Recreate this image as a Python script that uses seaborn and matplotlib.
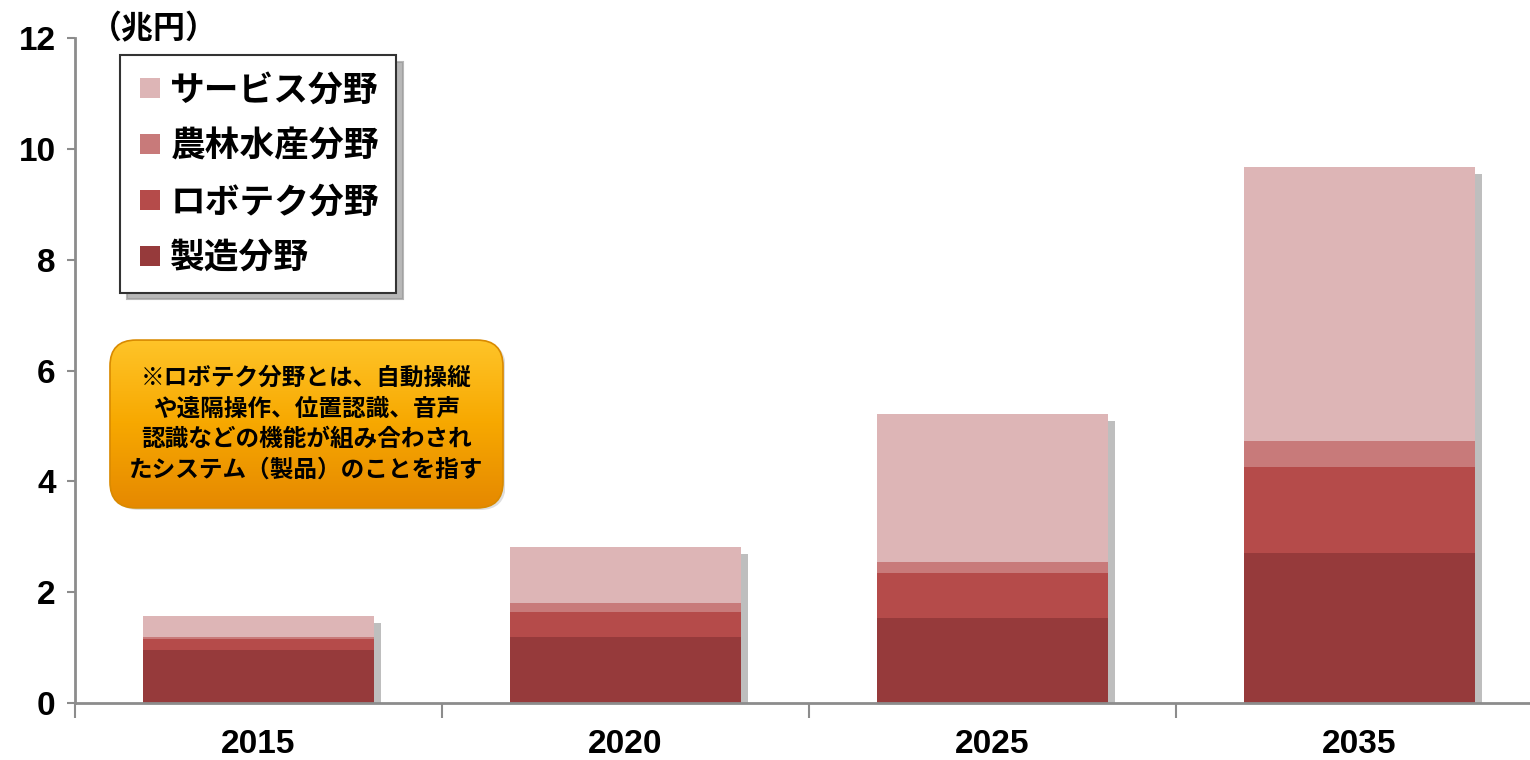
import numpy as np
import pandas as pd
import seaborn as sns
import matplotlib
matplotlib.use('Agg')
import matplotlib.pyplot as plt
from matplotlib.patches import FancyBboxPatch
from matplotlib.lines import Line2D
from matplotlib.colors import LinearSegmentedColormap
from matplotlib.font_manager import FontProperties
import matplotlib.patheffects as pe

# ---- data ----
years = ['2015', '2020', '2025', '2035']
manufacturing = [0.95, 1.19, 1.54, 2.70]   # 製造分野
robotech = [0.20, 0.45, 0.81, 1.55]        # ロボテク分野
agri = [0.05, 0.17, 0.20, 0.47]            # 農林水産分野
service = [0.37, 1.00, 2.67, 4.95]         # サービス分野
series_names = ['製造分野', 'ロボテク分野', '農林水産分野', 'サービス分野']
colors = ['#963A3B', '#B54B4A', '#C87A7A', '#DDB5B6']
yticks = [0, 2, 4, 6, 8, 10, 12]
unit_label = '（兆円）'
note_text = ('※ロボテク分野とは、自動操縦\n'
             'や遠隔操作、位置認識、音声\n'
             '認識などの機能が組み合わされ\n'
             'たシステム（製品）のことを指す')

sns.set_theme(style='white')
plt.rcParams['font.family'] = ['Noto Sans CJK JP', 'DejaVu Sans']
plt.rcParams['text.color'] = 'black'

W, H = 1530, 760
fig = plt.figure(figsize=(W / 100, H / 100), dpi=100)
ax = fig.add_axes([75 / W, 1 - 703 / H, 1468 / W, (703 - 38) / H])

layers = [manufacturing, robotech, agri, service]
cum = np.cumsum(np.array(layers), axis=0)
df = pd.DataFrame({'year': years})
for i in reversed(range(4)):
    df['v'] = cum[i]
    n_before = len(ax.patches)
    sns.barplot(data=df, x='year', y='v', color=colors[i], saturation=1,
                width=0.63, linewidth=0, ax=ax, zorder=2)
    if i == 3:
        for p in ax.patches[n_before:]:
            p.set_path_effects([pe.SimplePatchShadow(offset=(5, -5), shadow_rgbFace='#8a8a8a', alpha=0.55),
                                pe.Normal()])

ax.set_xlim(-0.5, 3.5)
ax.set_ylim(0, 12)
ax.set_yticks(yticks)
ax.set_xlabel('')
ax.set_ylabel('')
for s in ['top', 'right']:
    ax.spines[s].set_visible(False)
for s in ['left', 'bottom']:
    ax.spines[s].set_color('#8C8C8C')
    ax.spines[s].set_linewidth(2)
    ax.spines[s].set_zorder(3)

ax.set_xticks([-0.5, 0.5, 1.5, 2.5, 3.5], minor=True)
ax.tick_params(axis='x', which='minor', bottom=True, length=11, width=1.5, color='#8C8C8C', direction='out')
ax.tick_params(axis='x', which='major', bottom=False, length=0, pad=19, labelcolor='black')
ax.tick_params(axis='y', left=True, length=6, width=1.5, color='#8C8C8C', direction='out', pad=8,
               labelcolor='black')

tick_font = FontProperties(family='Liberation Sans', weight='bold', size=24)
ytick_font = FontProperties(family='Liberation Sans', weight='bold', size=24)
for lab in ax.get_xticklabels():
    lab.set_fontproperties(tick_font)
for lab in ax.get_yticklabels():
    lab.set_fontproperties(ytick_font)

# legend
handles = [Line2D([], [], marker='s', linestyle='', markersize=14,
                  markerfacecolor=colors[i], markeredgewidth=0) for i in reversed(range(4))]
labels = [series_names[i] for i in reversed(range(4))]
leg = ax.legend(handles, labels, loc='upper left', bbox_to_anchor=(45 / 1468, 0.974),
                borderaxespad=0, frameon=True, fancybox=False,
                shadow={'ox': 5, 'oy': -5, 'color': '#9a9a9a', 'alpha': 0.7},
                edgecolor='#333333',
                prop=FontProperties(family=['Noto Sans CJK JP', 'DejaVu Sans'], weight='bold', size=25),
                handletextpad=0.25, handlelength=0.7, labelspacing=0.6, borderpad=0.5)
leg.get_frame().set_linewidth(1.5)
leg.set_zorder(5)
for t in leg.get_texts():
    t.set_color('black')

# unit label
fig.text(90 / W, 1 - 29 / H, unit_label, ha='left', va='center', fontsize=23, fontweight='bold')

# note box with gradient
bx0, by0, bw, bh = 108, 338, 397, 172
ax2 = fig.add_axes([bx0 / W, 1 - (by0 + bh) / H, bw / W, bh / H])
ax2.set_xlim(0, 1)
ax2.set_ylim(0, 1)
ax2.axis('off')
rad = 26 / bw
asp = (26 / bh) / rad
box = FancyBboxPatch((0.005, 0.012), 0.99, 0.976,
                     boxstyle=f'round,pad=0,rounding_size={rad}', mutation_aspect=asp,
                     facecolor='none', edgecolor='#D98A00', linewidth=1.2, zorder=3)
shadow = FancyBboxPatch((0.012, 0.0), 0.99, 0.976,
                        boxstyle=f'round,pad=0,rounding_size={rad}', mutation_aspect=asp,
                        facecolor='#c8c8c8', edgecolor='none', alpha=0.6, zorder=1)
ax2.add_patch(shadow)
ax2.add_patch(box)
cmap = LinearSegmentedColormap.from_list('og', ['#FFC52A', '#F7A800', '#E58800'])
grad = np.linspace(0, 1, 256).reshape(-1, 1)
im = ax2.imshow(grad, extent=[0, 1, 0, 1], aspect='auto', cmap=cmap, origin='upper', zorder=2)
im.set_clip_path(box)
ax2.text(0.5, 0.5, note_text, ha='center', va='center', fontsize=17, fontweight='bold',
         linespacing=1.35, family=['Noto Sans CJK JP', 'DejaVu Sans'], color='black', zorder=4)

fig.savefig('out.png', dpi=100)
